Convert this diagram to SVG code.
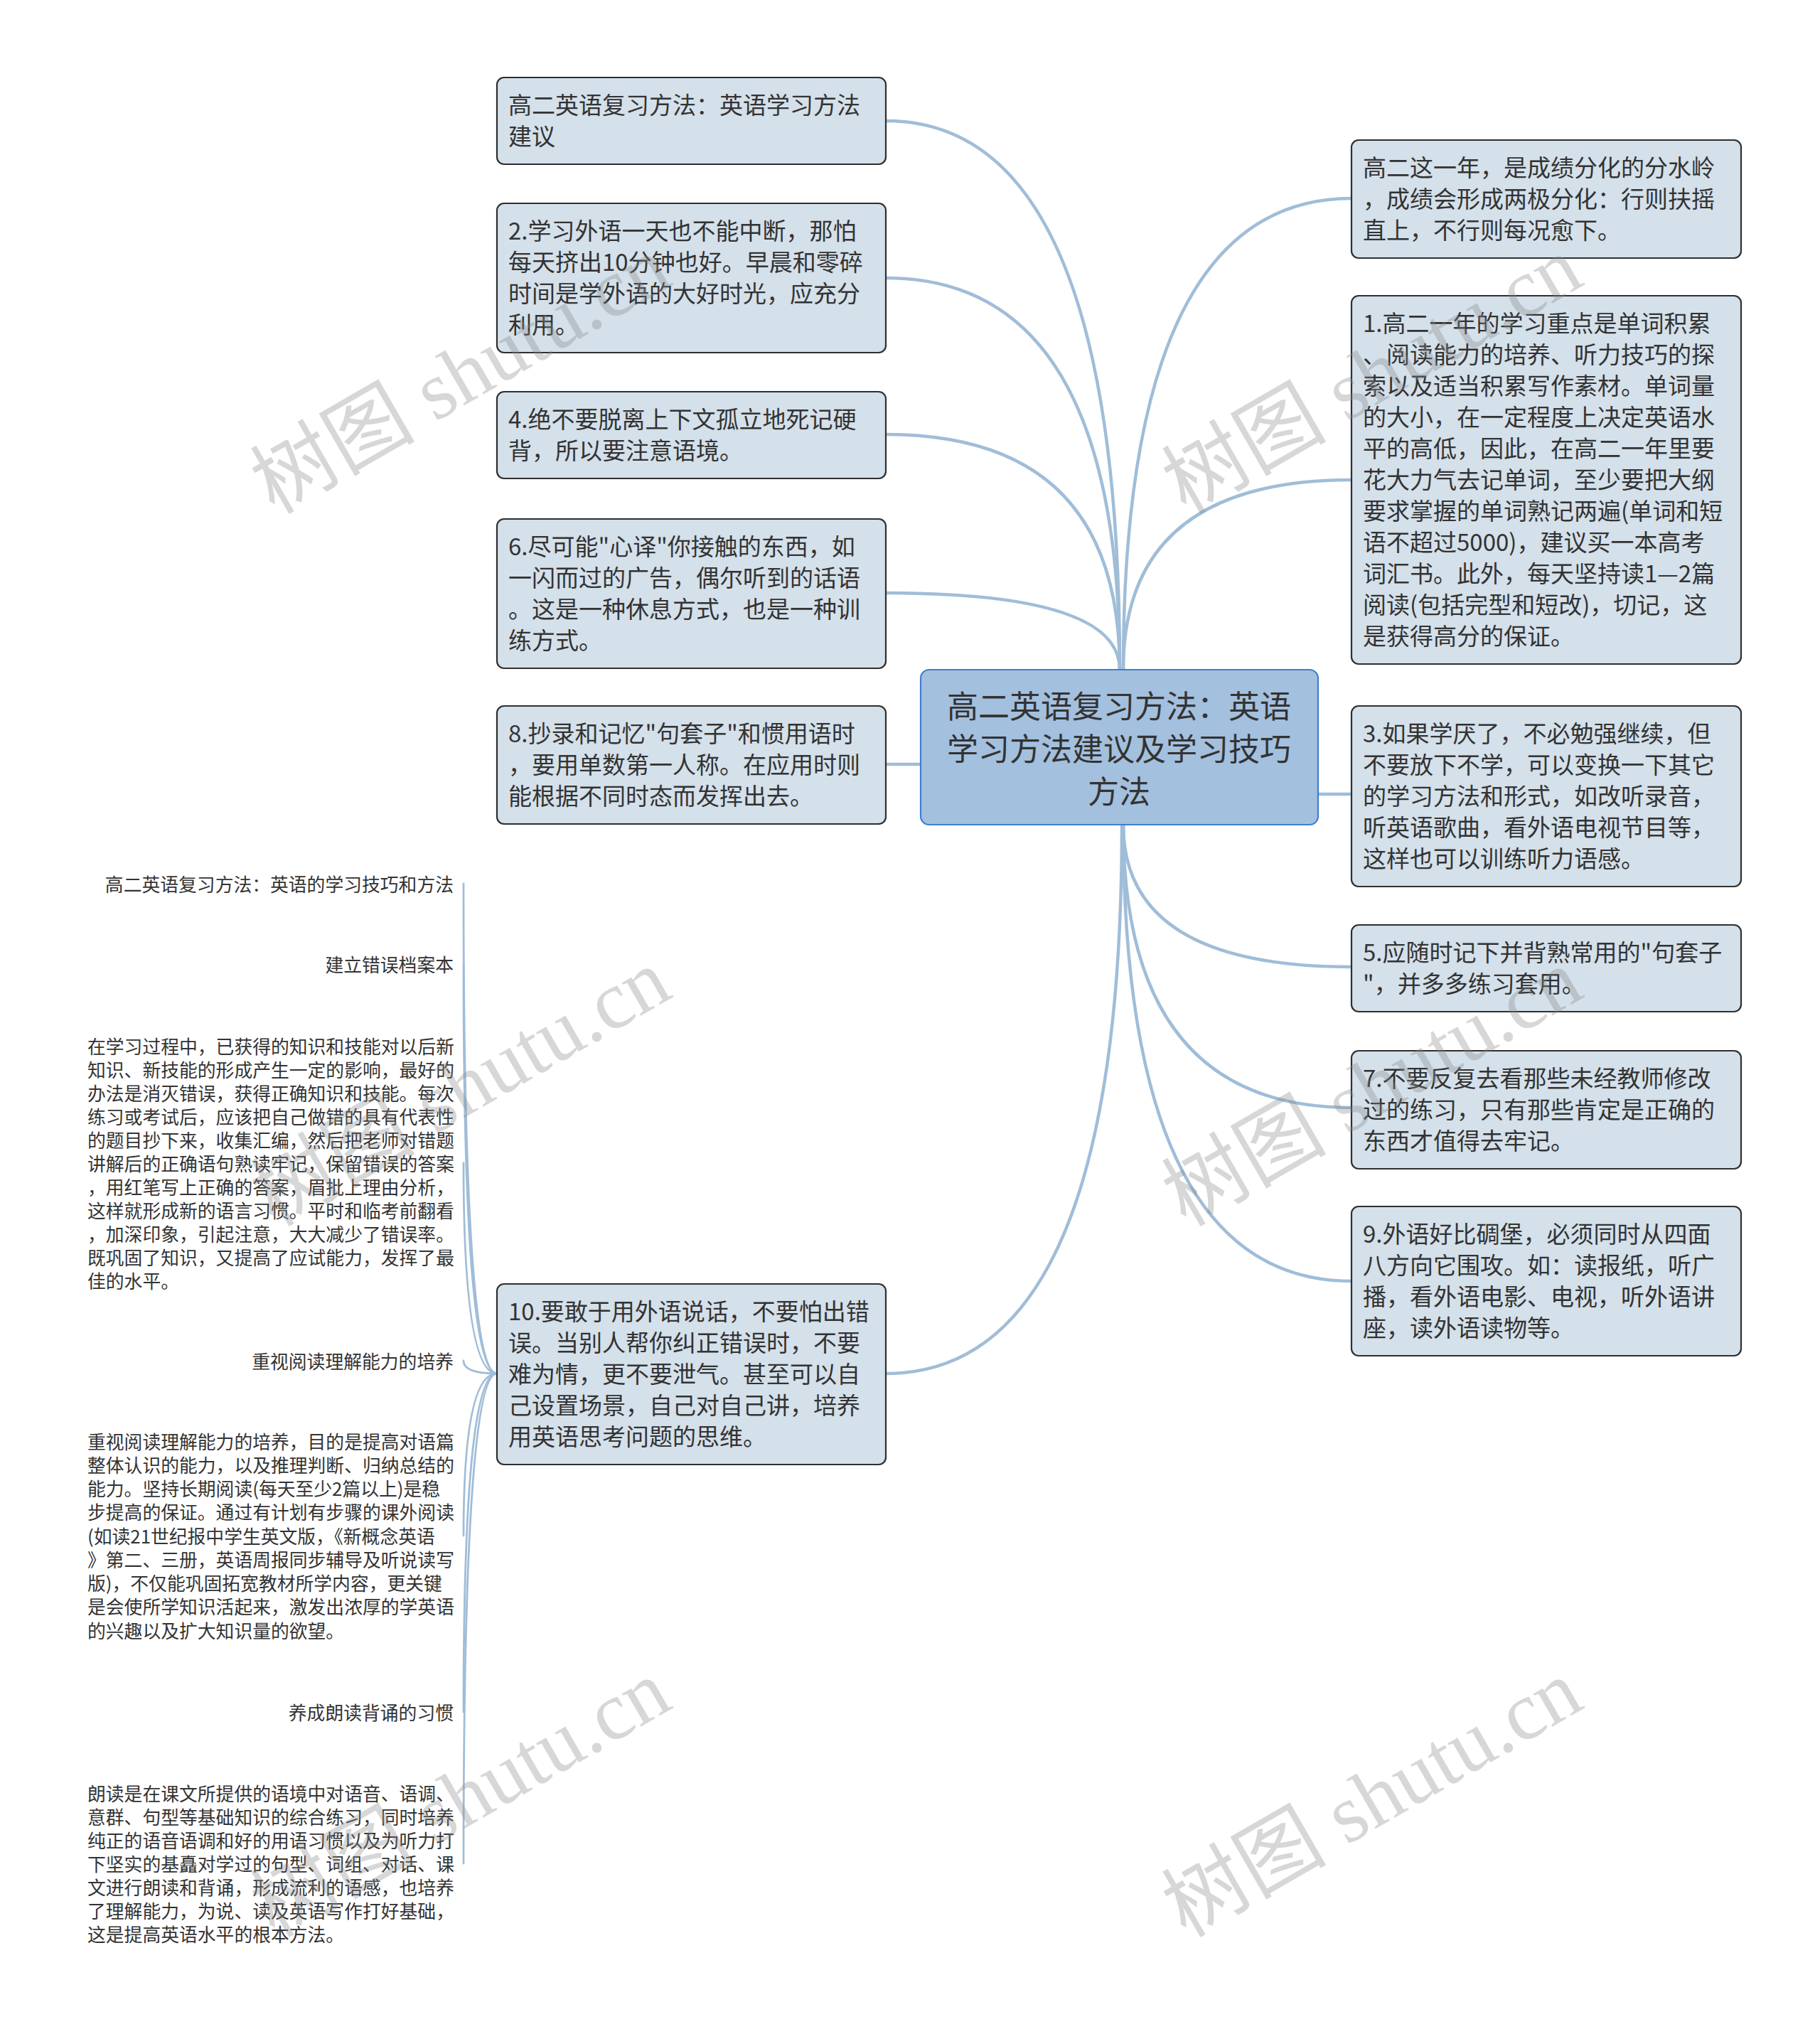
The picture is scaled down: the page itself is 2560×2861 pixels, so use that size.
<svg xmlns="http://www.w3.org/2000/svg" width="2560" height="2861" viewBox="0 0 2560 2861">
<style>
.bg{fill:#ffffff}
.box{fill:#d4e0ea;stroke:#2f2f2f;stroke-width:2.2}
.root{fill:#a3c0de;stroke:#3f7fcf;stroke-width:2.2}
.t{font-family:"Noto Sans CJK SC","Noto Sans",sans-serif;font-size:33px;fill:#333333;dominant-baseline:central}
.rt{font-family:"Noto Sans CJK SC","Noto Sans",sans-serif;font-size:44px;fill:#333333;dominant-baseline:central;text-anchor:middle}
.s{font-family:"Noto Sans CJK SC","Noto Sans",sans-serif;font-size:25.8px;fill:#333333;dominant-baseline:central}
.sr{text-anchor:end}
.c{fill:none;stroke:#a0bdd8;stroke-width:4.5;stroke-linecap:round}
.c2{fill:none;stroke:#a0bdd8;stroke-width:2.8;stroke-linecap:round}
.wm{font-family:"Liberation Serif","Noto Sans CJK SC",serif;font-size:116px;fill:#888888;opacity:0.33;text-anchor:middle;dominant-baseline:central}
</style>
<rect class="bg" x="0" y="0" width="2560" height="2861"/>
<g id="connectors">
<path class="c" d="M1575 942 Q1575 170 1246 170"/>
<path class="c" d="M1575 942 Q1575 391 1246 391"/>
<path class="c" d="M1575 942 Q1575 611 1246 611"/>
<path class="c" d="M1575 942 Q1575 834 1246 834"/>
<path class="c" d="M1295 1075 L1246 1075"/>
<path class="c" d="M1578 1160 Q1578 1932 1246 1932"/>
<path class="c" d="M1580 942 Q1580 279 1901 279"/>
<path class="c" d="M1580 942 Q1580 675 1901 675"/>
<path class="c" d="M1854 1117 L1901 1117"/>
<path class="c" d="M1580 1160 Q1580 1360 1901 1360"/>
<path class="c" d="M1580 1160 Q1580 1558 1901 1558"/>
<path class="c" d="M1580 1160 Q1580 1802 1901 1802"/>
<path class="c2" d="M699 1932 Q652 1932 652 1243"/>
<path class="c2" d="M699 1932 Q652 1932 652 1356"/>
<path class="c2" d="M699 1932 Q652 1932 652 1636"/>
<path class="c2" d="M699 1932 Q652 1932 652 1914"/>
<path class="c2" d="M699 1932 Q652 1932 652 2160"/>
<path class="c2" d="M699 1932 Q652 1932 652 2408"/>
<path class="c2" d="M699 1932 Q652 1932 652 2621"/>
</g>
<g id="root">
<rect class="root" x="1295" y="942" width="559" height="218" rx="12"/>
<text class="rt" x="1574" y="991">高二英语复习方法：英语</text>
<text class="rt" x="1574" y="1051">学习方法建议及学习技巧</text>
<text class="rt" x="1574" y="1111">方法</text>
</g>
<g id="nodeA">
<rect class="box" x="699" y="109" width="547" height="122" rx="10"/>
<text class="t" x="715" y="146">高二英语复习方法：英语学习方法</text>
<text class="t" x="715" y="190">建议</text>
</g>
<g id="nodeB">
<rect class="box" x="699" y="286" width="547" height="210" rx="10"/>
<text class="t" x="715" y="323">2.学习外语一天也不能中断，那怕</text>
<text class="t" x="715" y="367">每天挤出10分钟也好。早晨和零碎</text>
<text class="t" x="715" y="411">时间是学外语的大好时光，应充分</text>
<text class="t" x="715" y="455">利用。</text>
</g>
<g id="nodeC">
<rect class="box" x="699" y="551" width="547" height="122" rx="10"/>
<text class="t" x="715" y="588">4.绝不要脱离上下文孤立地死记硬</text>
<text class="t" x="715" y="632">背，所以要注意语境。</text>
</g>
<g id="nodeD">
<rect class="box" x="699" y="730" width="547" height="210" rx="10"/>
<text class="t" x="715" y="767">6.尽可能"心译"你接触的东西，如</text>
<text class="t" x="715" y="811">一闪而过的广告，偶尔听到的话语</text>
<text class="t" x="715" y="855">。这是一种休息方式，也是一种训</text>
<text class="t" x="715" y="899">练方式。</text>
</g>
<g id="nodeE">
<rect class="box" x="699" y="993" width="547" height="166" rx="10"/>
<text class="t" x="715" y="1030">8.抄录和记忆"句套子"和惯用语时</text>
<text class="t" x="715" y="1074">，要用单数第一人称。在应用时则</text>
<text class="t" x="715" y="1118">能根据不同时态而发挥出去。</text>
</g>
<g id="nodeF">
<rect class="box" x="699" y="1806" width="547" height="254" rx="10"/>
<text class="t" x="715" y="1843">10.要敢于用外语说话，不要怕出错</text>
<text class="t" x="715" y="1887">误。当别人帮你纠正错误时，不要</text>
<text class="t" x="715" y="1931">难为情，更不要泄气。甚至可以自</text>
<text class="t" x="715" y="1975">己设置场景，自己对自己讲，培养</text>
<text class="t" x="715" y="2019">用英语思考问题的思维。</text>
</g>
<g id="nodeR1">
<rect class="box" x="1901" y="197" width="548" height="166" rx="10"/>
<text class="t" x="1917" y="234">高二这一年，是成绩分化的分水岭</text>
<text class="t" x="1917" y="278">，成绩会形成两极分化：行则扶摇</text>
<text class="t" x="1917" y="322">直上，不行则每况愈下。</text>
</g>
<g id="nodeR2">
<rect class="box" x="1901" y="416" width="548" height="518" rx="10"/>
<text class="t" x="1917" y="453">1.高二一年的学习重点是单词积累</text>
<text class="t" x="1917" y="497">、阅读能力的培养、听力技巧的探</text>
<text class="t" x="1917" y="541">索以及适当积累写作素材。单词量</text>
<text class="t" x="1917" y="585">的大小，在一定程度上决定英语水</text>
<text class="t" x="1917" y="629">平的高低，因此，在高二一年里要</text>
<text class="t" x="1917" y="673">花大力气去记单词，至少要把大纲</text>
<text class="t" x="1917" y="717">要求掌握的单词熟记两遍(单词和短</text>
<text class="t" x="1917" y="761">语不超过5000)，建议买一本高考</text>
<text class="t" x="1917" y="805">词汇书。此外，每天坚持读1—2篇</text>
<text class="t" x="1917" y="849">阅读(包括完型和短改)，切记，这</text>
<text class="t" x="1917" y="893">是获得高分的保证。</text>
</g>
<g id="nodeR3">
<rect class="box" x="1901" y="993" width="548" height="254" rx="10"/>
<text class="t" x="1917" y="1030">3.如果学厌了，不必勉强继续，但</text>
<text class="t" x="1917" y="1074">不要放下不学，可以变换一下其它</text>
<text class="t" x="1917" y="1118">的学习方法和形式，如改听录音，</text>
<text class="t" x="1917" y="1162">听英语歌曲，看外语电视节目等，</text>
<text class="t" x="1917" y="1206">这样也可以训练听力语感。</text>
</g>
<g id="nodeR4">
<rect class="box" x="1901" y="1301" width="548" height="122" rx="10"/>
<text class="t" x="1917" y="1338">5.应随时记下并背熟常用的"句套子</text>
<text class="t" x="1917" y="1382">"，并多多练习套用。</text>
</g>
<g id="nodeR5">
<rect class="box" x="1901" y="1478" width="548" height="166" rx="10"/>
<text class="t" x="1917" y="1515">7.不要反复去看那些未经教师修改</text>
<text class="t" x="1917" y="1559">过的练习，只有那些肯定是正确的</text>
<text class="t" x="1917" y="1603">东西才值得去牢记。</text>
</g>
<g id="nodeR6">
<rect class="box" x="1901" y="1697" width="548" height="210" rx="10"/>
<text class="t" x="1917" y="1734">9.外语好比碉堡，必须同时从四面</text>
<text class="t" x="1917" y="1778">八方向它围攻。如：读报纸，听广</text>
<text class="t" x="1917" y="1822">播，看外语电影、电视，听外语讲</text>
<text class="t" x="1917" y="1866">座，读外语读物等。</text>
</g>
<g id="leaf1">
<text class="s sr" x="638" y="1242">高二英语复习方法：英语的学习技巧和方法</text>
</g>
<g id="leaf2">
<text class="s sr" x="638" y="1355">建立错误档案本</text>
</g>
<g id="leaf3">
<text class="s" x="123" y="1470">在学习过程中，已获得的知识和技能对以后新</text>
<text class="s" x="123" y="1503">知识、新技能的形成产生一定的影响，最好的</text>
<text class="s" x="123" y="1536">办法是消灭错误，获得正确知识和技能。每次</text>
<text class="s" x="123" y="1569">练习或考试后，应该把自己做错的具有代表性</text>
<text class="s" x="123" y="1602">的题目抄下来，收集汇编，然后把老师对错题</text>
<text class="s" x="123" y="1635">讲解后的正确语句熟读牢记，保留错误的答案</text>
<text class="s" x="123" y="1668">，用红笔写上正确的答案，眉批上理由分析，</text>
<text class="s" x="123" y="1701">这样就形成新的语言习惯。平时和临考前翻看</text>
<text class="s" x="123" y="1734">，加深印象，引起注意，大大减少了错误率。</text>
<text class="s" x="123" y="1767">既巩固了知识，又提高了应试能力，发挥了最</text>
<text class="s" x="123" y="1800">佳的水平。</text>
</g>
<g id="leaf4">
<text class="s sr" x="638" y="1913">重视阅读理解能力的培养</text>
</g>
<g id="leaf5">
<text class="s" x="123" y="2026">重视阅读理解能力的培养，目的是提高对语篇</text>
<text class="s" x="123" y="2059">整体认识的能力，以及推理判断、归纳总结的</text>
<text class="s" x="123" y="2092">能力。坚持长期阅读(每天至少2篇以上)是稳</text>
<text class="s" x="123" y="2125">步提高的保证。通过有计划有步骤的课外阅读</text>
<text class="s" x="123" y="2159">(如读21世纪报中学生英文版，《新概念英语</text>
<text class="s" x="123" y="2192">》第二、三册，英语周报同步辅导及听说读写</text>
<text class="s" x="123" y="2225">版)，不仅能巩固拓宽教材所学内容，更关键</text>
<text class="s" x="123" y="2258">是会使所学知识活起来，激发出浓厚的学英语</text>
<text class="s" x="123" y="2292">的兴趣以及扩大知识量的欲望。</text>
</g>
<g id="leaf6">
<text class="s sr" x="638" y="2407">养成朗读背诵的习惯</text>
</g>
<g id="leaf7">
<text class="s" x="123" y="2521">朗读是在课文所提供的语境中对语音、语调、</text>
<text class="s" x="123" y="2554">意群、句型等基础知识的综合练习，同时培养</text>
<text class="s" x="123" y="2587">纯正的语音语调和好的用语习惯以及为听力打</text>
<text class="s" x="123" y="2620">下坚实的基矗对学过的句型、词组、对话、课</text>
<text class="s" x="123" y="2653">文进行朗读和背诵，形成流利的语感，也培养</text>
<text class="s" x="123" y="2686">了理解能力，为说、读及英语写作打好基础，</text>
<text class="s" x="123" y="2719">这是提高英语水平的根本方法。</text>
</g>
<g id="watermarks">
<text class="wm" transform="translate(648 528) rotate(-30)">树图 shutu.cn</text>
<text class="wm" transform="translate(1930 528) rotate(-30)">树图 shutu.cn</text>
<text class="wm" transform="translate(648 1530) rotate(-30)">树图 shutu.cn</text>
<text class="wm" transform="translate(1930 1530) rotate(-30)">树图 shutu.cn</text>
<text class="wm" transform="translate(648 2530) rotate(-30)">树图 shutu.cn</text>
<text class="wm" transform="translate(1930 2530) rotate(-30)">树图 shutu.cn</text>
</g>
</svg>
